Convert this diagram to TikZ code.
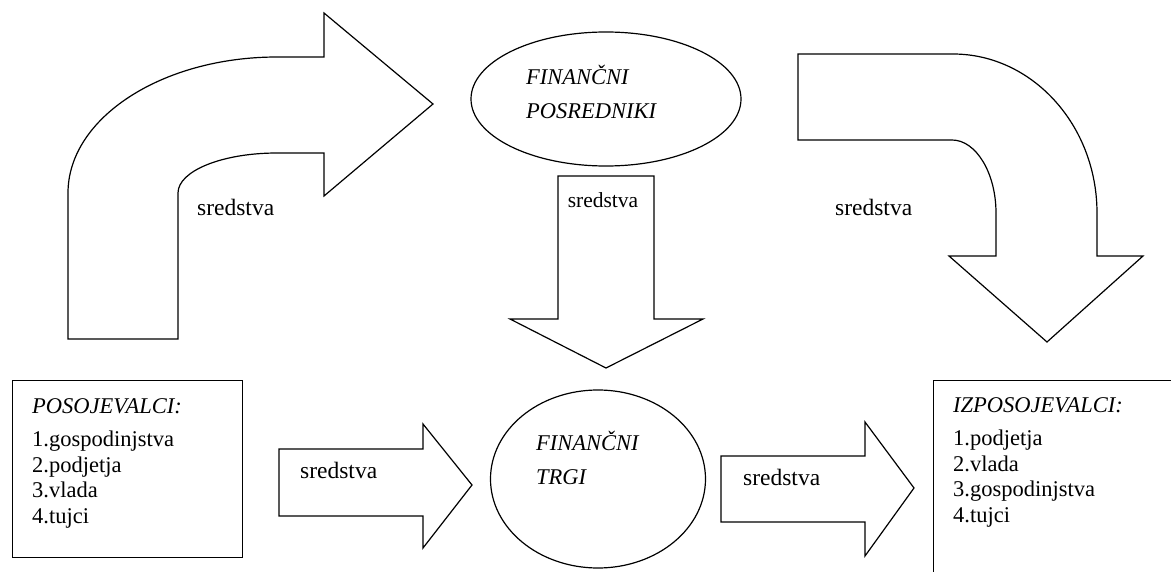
\documentclass[tikz,border=0pt]{standalone}
\usepackage{fontspec}
\setmainfont{Liberation Serif}
\usepackage{tikz}
\usetikzlibrary{shapes.geometric}
\tikzset{
  blockarrow/.style={draw=black, line width=1.2pt, line join=miter},
  listbox/.style={draw=black, line width=1.2pt, anchor=north west, inner sep=0pt},
  listtext/.style={align=left, anchor=north west, inner sep=0pt, font=\fontsize{22.5}{25.5}\selectfont},
  oval/.style={ellipse, draw=black, line width=1.2pt, inner sep=0pt},
  ovaltext/.style={align=left, anchor=north west, inner sep=0pt, font=\fontsize{22.5}{34}\selectfont\itshape},
  flowlabel/.style={anchor=west, inner sep=0pt, font=\fontsize{23.5}{27}\selectfont},
}

\begin{document}
\begin{tikzpicture}[x=1pt, y=-1pt]
    \useasboundingbox (0,0) rectangle (1171,572);
    % upper row: curved arrows and the intermediaries
    \draw[blockarrow] (68,339) -- (68,193) .. controls (68,118) and (162,57) .. (277,57)
        -- (324,57) -- (324,13) -- (433,104) -- (324,196) -- (324,153) -- (277,153)
        .. controls (222,153) and (178,171) .. (178,193) -- (178,339) -- cycle;
    \node[flowlabel] (fundsa) at (197,207) {sredstva};
    \node[oval, minimum width=270, minimum height=134] (interm) at (606,99) {};
    \node[ovaltext] (intermtext) at (526,65) {FINANČNI\\POSREDNIKI};
    \draw[blockarrow] (558,176) -- (654,176) -- (654,319) -- (703,319) -- (606,368)
        -- (510,319) -- (558,319) -- cycle;
    \node[flowlabel, font=\fontsize{21.5}{24}\selectfont, anchor=center] (fundsb) at (603,200) {sredstva};
    \draw[blockarrow] (798,54) -- (953,54) .. controls (1032,54) and (1097,125) .. (1097,213)
        -- (1097,256) -- (1143,256) -- (1047,342) -- (949,256) -- (996,256) -- (996,213)
        .. controls (996,173) and (976,140) .. (952,140) -- (798,140) -- cycle;
    \node[flowlabel] (fundsc) at (835,207) {sredstva};
    % lower row: lenders, markets, borrowers
    \node[listbox, minimum width=230, minimum height=177] (lenders) at (12,380) {};
    \node[listtext] (lenderstext) at (32,398) {\textit{POSOJEVALCI:}\\[8pt]1.gospodinjstva\\2.podjetja\\3.vlada\\4.tujci};
    \draw[blockarrow] (279,449) -- (423,449) -- (423,424) -- (472,485) -- (423,548)
        -- (423,516) -- (279,516) -- cycle;
    \node[flowlabel] (fundsd) at (300,470) {sredstva};
    \node[oval, minimum width=215, minimum height=178] (markets) at (598,479) {};
    \node[ovaltext] (marketstext) at (536,431) {FINANČNI\\TRGI};
    \draw[blockarrow] (721,456) -- (865,456) -- (865,422) -- (914,488) -- (865,556)
        -- (865,522) -- (721,522) -- cycle;
    \node[flowlabel] (fundse) at (743,477) {sredstva};
    \begin{scope}
        \clip (0,0) rectangle (1171,572);
        \node[listbox, minimum width=280, minimum height=240] (borrowers) at (933,380) {};
    \end{scope}
    \node[listtext] (borrowerstext) at (953,397) {\textit{IZPOSOJEVALCI:}\\[8pt]1.podjetja\\2.vlada\\3.gospodinjstva\\4.tujci};
\end{tikzpicture}
\end{document}
